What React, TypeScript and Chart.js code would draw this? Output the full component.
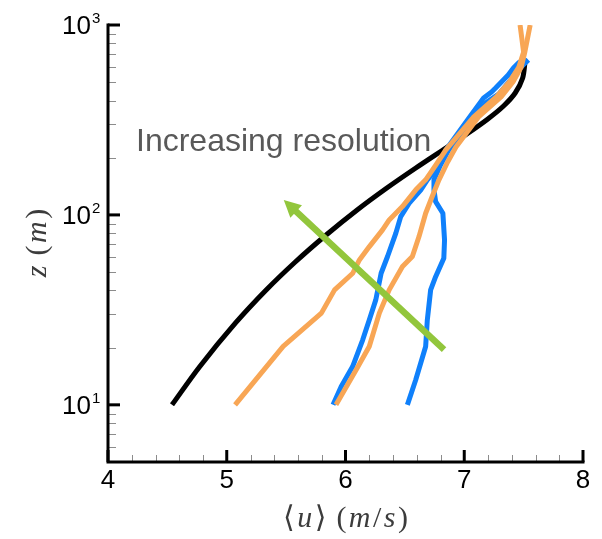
import React, { useEffect, useRef } from 'react';
import { Chart, registerables } from 'chart.js';

Chart.register(...registerables);

// ---- axis definitions ----
const X_MIN = 4;
const X_MAX = 8;
const Y_MIN = 5;
const Y_MAX = 1000;
const xTickValues = [4, 5, 6, 7, 8];
const xTickLabels = ['4', '5', '6', '7', '8'];
const yTickValues = [10, 100, 1000];
const yTickExponents = ['1', '2', '3'];

// ---- series (u in m/s, z in m) ----
const blackU = [4.539, 4.77, 5.074, 5.332, 5.577, 5.837, 6.098, 6.348, 6.592, 6.845, 7.034, 7.199, 7.331, 7.429, 7.492, 7.512];
const blackZ = [10, 15.83, 26.98, 40.24, 56.52, 78.41, 106.2, 138.6, 176.7, 225.1, 270.1, 320.1, 374.7, 438.6, 526.2, 639];

const orange1U = [5.07, 5.475, 5.797, 5.908, 6.061, 6.117, 6.201, 6.312, 6.368, 6.479, 6.592, 6.675, 6.76, 6.845, 7.08, 7.27, 7.38, 7.46, 7.5, 7.47];
const orange1Z = [10, 20.3, 30.4, 40.3, 49.3, 57.9, 68.1, 83.4, 94.1, 110.6, 135.5, 153, 183, 220, 328, 418, 501, 601, 720, 1000];

const orange2U = [5.92, 6.09, 6.2, 6.285, 6.368, 6.48, 6.563, 6.619, 6.675, 6.73, 6.787, 6.86, 6.93, 7.12, 7.31, 7.41, 7.48, 7.51, 7.555];
const orange2Z = [10, 15.3, 20.3, 30.4, 40.3, 53.5, 60.4, 76.9, 102, 125, 153, 190, 228, 328, 418, 501, 601, 720, 1000];

const blue1U = [5.895, 5.964, 6.06, 6.145, 6.2, 6.255, 6.3, 6.354, 6.424, 6.465, 6.535, 6.633, 6.689, 6.79, 6.845, 7.04, 7.163, 7.23, 7.264, 7.37, 7.414, 7.456, 7.523];
const blue1Z = [10, 12.5, 15.9, 22, 28, 35.7, 49.3, 60.4, 80.2, 98, 115, 135, 153, 183, 220, 324, 413, 444, 466, 546, 594, 631, 670];

const blue2U = [6.521, 6.591, 6.675, 6.689, 6.717, 6.759, 6.828, 6.834, 6.82, 6.759, 6.745, 6.745, 6.8, 6.87, 7.054, 7.19, 7.29, 7.39, 7.47, 7.54];
const blue2Z = [10, 13.5, 20.3, 28, 40.3, 47.3, 59.2, 73.8, 102, 117.5, 135.5, 153, 183, 220, 316, 393, 433, 513, 594, 655];

// ---- annotation (data coordinates) ----
const arrowTail = { u: 6.83, z: 19.5 };
const arrowHead = { u: 5.48, z: 120 };
const annotationText = 'Increasing resolution';
const annotationPos = { u: 4.236, z: 217 };

const BLACK = '#000000';
const BLUE = '#0f80fb';
const ORANGE = '#f8a655';
const GREEN = '#92c63c';

const toPoints = (u: number[], z: number[]) => u.map((v, i) => ({ x: v, y: z[i] }));

const drawPieces = (
  ctx: CanvasRenderingContext2D,
  pieces: { t: string; italic: boolean }[],
  size: number,
  gap: number
) => {
  const fontFor = (it: boolean) => `${it ? 'italic ' : ''}${size}px "Liberation Serif", "DejaVu Serif", serif`;
  let total = 0;
  const widths = pieces.map((p) => {
    ctx.font = fontFor(p.italic);
    const w = ctx.measureText(p.t).width;
    total += w;
    return w;
  });
  total += gap * (pieces.length - 1);
  let x = -total / 2;
  pieces.forEach((p, i) => {
    ctx.font = fontFor(p.italic);
    ctx.fillText(p.t, x, 0);
    x += widths[i] + gap;
  });
};

const decorPlugin = {
  id: 'decor',
  afterDatasetsDraw(chart: any) {
    const { ctx, chartArea: a, scales } = chart;
    const xs = scales.x;
    const ys = scales.y;
    ctx.save();

    // arrow
    const tx = xs.getPixelForValue(arrowTail.u);
    const ty = ys.getPixelForValue(arrowTail.z);
    const hx = xs.getPixelForValue(arrowHead.u);
    const hy = ys.getPixelForValue(arrowHead.z);
    const ang = Math.atan2(hy - ty, hx - tx);
    const headLen = 17;
    const headHalf = 8.5;
    const bx = hx - headLen * Math.cos(ang);
    const by = hy - headLen * Math.sin(ang);
    ctx.strokeStyle = GREEN;
    ctx.fillStyle = GREEN;
    ctx.lineWidth = 6.5;
    ctx.lineCap = 'butt';
    ctx.beginPath();
    ctx.moveTo(tx, ty);
    ctx.lineTo(bx + 2 * Math.cos(ang), by + 2 * Math.sin(ang));
    ctx.stroke();
    ctx.beginPath();
    ctx.moveTo(hx, hy);
    ctx.lineTo(bx + headHalf * Math.sin(ang), by - headHalf * Math.cos(ang));
    ctx.lineTo(bx - headHalf * Math.sin(ang), by + headHalf * Math.cos(ang));
    ctx.closePath();
    ctx.fill();

    // annotation text
    ctx.fillStyle = '#595959';
    ctx.font = '32px "Liberation Sans", Arial, sans-serif';
    ctx.textAlign = 'left';
    ctx.textBaseline = 'alphabetic';
    ctx.fillText(annotationText, xs.getPixelForValue(annotationPos.u), ys.getPixelForValue(annotationPos.z));

    // minor ticks x
    ctx.strokeStyle = '#8c8c8c';
    ctx.lineWidth = 1;
    for (let i = 1; i < (X_MAX - X_MIN) * 5; i++) {
      if (i % 5 === 0) continue;
      const px = Math.round(xs.getPixelForValue(X_MIN + i * 0.2)) + 0.5;
      ctx.beginPath();
      ctx.moveTo(px, a.bottom);
      ctx.lineTo(px, a.bottom - 7);
      ctx.stroke();
    }
    // minor ticks y (log)
    for (let d = 1; d <= 100; d *= 10) {
      for (let m = 2; m <= 9; m++) {
        const v = m * d;
        if (v <= Y_MIN || v >= Y_MAX) continue;
        const py = Math.round(ys.getPixelForValue(v)) + 0.5;
        ctx.beginPath();
        ctx.moveTo(a.left, py);
        ctx.lineTo(a.left + 8, py);
        ctx.stroke();
      }
    }

    // axis lines
    ctx.strokeStyle = '#000';
    ctx.lineWidth = 3;
    ctx.lineCap = 'square';
    ctx.beginPath();
    ctx.moveTo(a.left, a.top);
    ctx.lineTo(a.left, a.bottom);
    ctx.lineTo(a.right, a.bottom);
    ctx.stroke();
    ctx.lineCap = 'butt';

    // major ticks
    xTickValues.forEach((v) => {
      const px = xs.getPixelForValue(v);
      ctx.beginPath();
      ctx.moveTo(px, a.bottom);
      ctx.lineTo(px, a.bottom - 12);
      ctx.stroke();
    });
    yTickValues.forEach((v) => {
      const py = ys.getPixelForValue(v);
      ctx.beginPath();
      ctx.moveTo(a.left, py);
      ctx.lineTo(a.left + 12, py);
      ctx.stroke();
    });

    // x tick labels
    ctx.fillStyle = '#000';
    ctx.font = '26px "Liberation Sans", Arial, sans-serif';
    ctx.textAlign = 'center';
    ctx.textBaseline = 'alphabetic';
    xTickValues.forEach((v, i) => {
      ctx.fillText(xTickLabels[i], xs.getPixelForValue(v), a.bottom + 26);
    });

    // y tick labels 10^n
    yTickValues.forEach((v, i) => {
      const py = ys.getPixelForValue(v);
      ctx.font = '26px "Liberation Sans", Arial, sans-serif';
      ctx.textAlign = 'right';
      ctx.fillText('10', a.left - 17, py + 9);
      ctx.font = '15px "Liberation Sans", Arial, sans-serif';
      ctx.textAlign = 'left';
      ctx.fillText(yTickExponents[i], a.left - 16, py - 2);
    });

    // axis titles
    ctx.fillStyle = '#3c3c3c';
    ctx.textAlign = 'left';
    ctx.save();
    ctx.translate((a.left + a.right) / 2, a.bottom + 65);
    drawPieces(
      ctx,
      [
        { t: '\u27E8', italic: false },
        { t: 'u', italic: true },
        { t: '\u27E9', italic: false },
        { t: ' (', italic: false },
        { t: 'm', italic: true },
        { t: '/', italic: false },
        { t: 's', italic: true },
        { t: ')', italic: false },
      ],
      30,
      2.5
    );
    ctx.restore();

    ctx.save();
    ctx.translate(46, 243);
    ctx.rotate(-Math.PI / 2);
    drawPieces(
      ctx,
      [
        { t: 'z', italic: true },
        { t: ' (', italic: false },
        { t: 'm', italic: true },
        { t: ')', italic: false },
      ],
      30,
      2.5
    );
    ctx.restore();

    ctx.restore();
  },
};

const lineDs = (label: string, u: number[], z: number[], color: string, tension = 0) => ({
  label,
  data: toPoints(u, z),
  showLine: true,
  borderColor: color,
  backgroundColor: color,
  borderWidth: 5,
  pointRadius: 0,
  pointHoverRadius: 0,
  tension,
  borderJoinStyle: 'round' as const,
  borderCapStyle: 'butt' as const,
  clip: 0,
});

export default function App() {
  const ref = useRef<HTMLCanvasElement>(null);
  useEffect(() => {
    if (!ref.current) return;
    const chart = new Chart(ref.current, {
      type: 'scatter',
      data: {
        datasets: [
          lineDs('orange1', orange1U, orange1Z, ORANGE),
          lineDs('orange2', orange2U, orange2Z, ORANGE),
          lineDs('blue1', blue1U, blue1Z, BLUE),
          lineDs('blue2', blue2U, blue2Z, BLUE),
          lineDs('black', blackU, blackZ, BLACK, 0.3),
        ],
      },
      options: {
        animation: false,
        responsive: false,
        maintainAspectRatio: false,
        layout: { padding: { left: 108, right: 19, top: 25, bottom: 77 } },
        plugins: { legend: { display: false }, tooltip: { enabled: false } },
        events: [],
        scales: {
          x: { type: 'linear', min: X_MIN, max: X_MAX, display: false },
          y: { type: 'logarithmic', min: Y_MIN, max: Y_MAX, display: false },
        },
      },
      plugins: [decorPlugin],
    });
    return () => chart.destroy();
  }, []);
  return (
    <div style={{ position: 'fixed', left: 0, top: 0, width: 602, height: 539, background: '#fff' }}>
      <canvas ref={ref} width={602} height={539} style={{ display: 'block' }} />
    </div>
  );
}
